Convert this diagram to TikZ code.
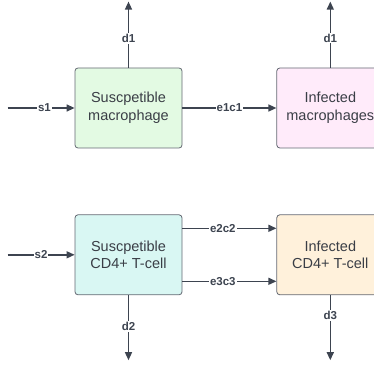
\documentclass[tikz,border=0pt]{standalone}
\usepackage{fontspec}
\setmainfont{Liberation Sans}
\usepackage{tikz}
\usetikzlibrary{arrows.meta,positioning}
\definecolor{linegray}{RGB}{61,68,80}
\definecolor{textgray}{RGB}{58,62,70}
\definecolor{boxgreen}{RGB}{227,250,227}
\definecolor{boxpink}{RGB}{255,235,250}
\definecolor{boxcyan}{RGB}{217,247,243}
\definecolor{boxorange}{RGB}{255,241,219}

\begin{document}
\begin{tikzpicture}[
    x=1pt, y=-1pt,
    box/.style={rectangle, rounded corners=3pt, draw=linegray!80, line width=0.8pt,
                minimum width=107pt, minimum height=80pt, align=center, inner sep=0pt,
                text=textgray, font=\fontsize{14.5}{17.5}\selectfont},
    arrow/.style={-{Triangle[length=8pt,width=7pt]}, line width=1.4pt, color=linegray},
    lbl/.style={fill=white, inner sep=1pt, text=linegray, font=\fontsize{11.5}{12}\selectfont\bfseries}
  ]
    \clip (0,0) rectangle (374,366);

    \node[box, fill=boxgreen] (smac) at (128.5,108) {Suscpetible\\macrophage};
    \node[box, fill=boxpink, right=94pt of smac] (imac) {Infected\\macrophages};
    \node[box, fill=boxcyan, below=66pt of smac] (scell) {Suscpetible\\CD4+ T-cell};
    \node[box, fill=boxorange, right=94pt of scell] (icell) {Infected\\CD4+ T-cell};

    % sources and deaths
    \coordinate[left=67pt of smac] (s1in);
    \coordinate[left=67pt of scell] (s2in);
    \coordinate[above=66pt of smac] (d1out);
    \coordinate[above=66pt of imac] (d1bout);
    \coordinate[below=65pt of scell] (d2out);
    \coordinate[below=65pt of icell] (d3out);

    \draw[arrow] (s1in) -- node[lbl, pos=0.55]{s1} (smac);
    \draw[arrow] (s2in) -- node[lbl, pos=0.5]{s2} (scell);
    \draw[arrow] (smac) -- node[lbl, pos=0.44]{d1} (d1out);
    \draw[arrow] (imac) -- node[lbl, pos=0.45]{d1} (d1bout);
    \draw[arrow] (scell) -- node[lbl, pos=0.48]{d2} (d2out);
    \draw[arrow] (icell) -- node[lbl, pos=0.31]{d3} (d3out);

    % infection
    \draw[arrow] (smac) -- node[lbl]{e1c1} (imac);
    \draw[arrow] ([yshift=26.5pt]scell.east) -- node[lbl, pos=0.43]{e2c2} ([yshift=26.5pt]icell.west);
    \draw[arrow] ([yshift=-26.5pt]scell.east) -- node[lbl, pos=0.43]{e3c3} ([yshift=-26.5pt]icell.west);
\end{tikzpicture}
\end{document}
